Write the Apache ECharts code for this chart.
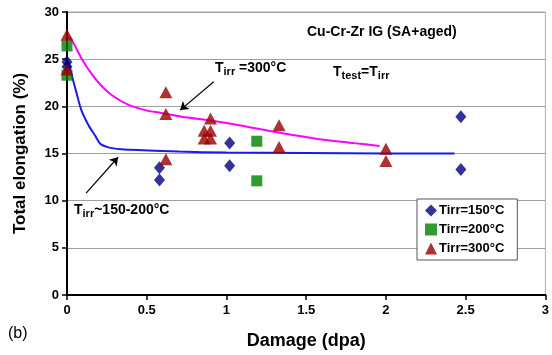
<!DOCTYPE html>
<html>
<head>
<meta charset="utf-8">
<script src="https://cdn.jsdelivr.net/npm/echarts@6/dist/echarts.min.js"></script>
<style>
  html, body { margin: 0; padding: 0; background: #fff; }
  #chart { width: 552px; height: 355px; }
</style>
</head>
<body>
<div id="chart"></div>
<script>
// Total elongation of Cu-Cr-Zr IG (SA+aged) versus irradiation damage
const xTicks = [0, 0.5, 1, 1.5, 2, 2.5, 3];
const yTicks = [0, 5, 10, 15, 20, 25, 30];

// Measured points [damage dpa, elongation %]
const tirr150 = [[0, 24.7], [0, 24.2], [0.58, 13.5], [0.58, 12.2], [1.02, 16.1], [1.02, 13.7], [2.47, 18.9], [2.47, 13.3]];
const tirr200 = [[0, 26.4], [0, 23.3], [1.19, 16.3], [1.19, 12.1]];
const tirr300 = [[0, 27.6], [0, 23.9], [0.62, 21.5], [0.62, 19.2], [0.62, 14.4],
                 [0.9, 18.7], [0.86, 17.4], [0.9, 17.4], [0.86, 16.6], [0.9, 16.6],
                 [1.33, 18.0], [1.33, 15.7], [2.0, 15.5], [2.0, 14.2]];

// Trend curves
const trend300 = [[0, 27.4], [0.03, 27.0], [0.09, 25.1], [0.16, 23.3], [0.22, 22.1], [0.28, 21.2],
                  [0.38, 20.2], [0.49, 19.6], [0.59, 19.3], [0.72, 18.9], [0.9, 18.5], [1.08, 18.0],
                  [1.3, 17.3], [1.55, 16.6], [1.8, 16.1], [1.96, 15.8]];
const trend150 = [[0, 24.8], [0.01, 24.6], [0.03, 23.3], [0.06, 21.4], [0.09, 19.6], [0.135, 18.0],
                  [0.18, 16.8], [0.21, 16.0], [0.26, 15.65], [0.34, 15.45], [0.4, 15.4],
                  [0.7, 15.2], [1.0, 15.1], [1.5, 15.05], [2.0, 15.0], [2.43, 15.0]];

const chart = echarts.init(document.getElementById('chart'));
const FONT = 'Liberation Sans, Arial, sans-serif';

const subRich = {
  b: { fontFamily: FONT, fontSize: 14, fontWeight: 'bold', color: '#000', lineHeight: 17 },
  s: { fontFamily: FONT, fontSize: 11, fontWeight: 'bold', color: '#000', lineHeight: 17, padding: [7, 0, 0, 0] }
};

chart.setOption({
  animation: false,
  backgroundColor: '#fff',
  grid: { left: 67, right: 3, top: 12, bottom: 60, show: true, borderColor: '#b0b0b0', borderWidth: 1 },
  xAxis: {
    type: 'value', min: 0, max: 3, interval: 0.5,
    name: 'Damage (dpa)', nameLocation: 'middle', nameGap: 37,
    nameTextStyle: { fontFamily: FONT, fontSize: 18, fontWeight: 'bold', color: '#000' },
    axisLine: { show: true, lineStyle: { color: '#000', width: 2 } },
    axisTick: { show: true, inside: false, length: 5, lineStyle: { color: '#000', width: 1.5 } },
    axisLabel: { fontFamily: FONT, fontSize: 13, fontWeight: 'bold', color: '#000', margin: 9,
                 formatter: v => String(v) },
    splitLine: { show: false }
  },
  yAxis: {
    type: 'value', min: 0, max: 30, interval: 5,
    name: 'Total elongation (%)', nameLocation: 'middle', nameGap: 38, nameRotate: 90,
    nameTextStyle: { fontFamily: FONT, fontSize: 17, fontWeight: 'bold', color: '#000' },
    axisLine: { show: true, lineStyle: { color: '#000', width: 2 } },
    axisTick: { show: true, inside: false, length: 5, lineStyle: { color: '#000', width: 1.5 } },
    axisLabel: { fontFamily: FONT, fontSize: 13, fontWeight: 'bold', color: '#000', margin: 8 },
    splitLine: { show: true, lineStyle: { color: '#a0a0a0', width: 1.2 } }
  },
  legend: {
    orient: 'vertical', left: 417, top: 199,
    padding: [5, 13, 5, 8], itemGap: 6,
    borderColor: '#555', borderWidth: 1, backgroundColor: '#fff',
    itemWidth: 12, itemHeight: 12,
    textStyle: { fontFamily: FONT, fontSize: 13, fontWeight: 'bold', color: '#000', padding: [0, 0, 0, -3] },
    data: ['Tirr=150°C', 'Tirr=200°C', 'Tirr=300°C']
  },
  series: [
    {
      name: 'trend300', type: 'line', data: trend300, smooth: 0.3, showSymbol: false,
      lineStyle: { color: '#ff00ff', width: 2 }, z: 2, silent: true
    },
    {
      name: 'trend150', type: 'line', data: trend150, smooth: 0.3, showSymbol: false,
      lineStyle: { color: '#1a1aee', width: 2 }, z: 2, silent: true,
      markLine: {
        silent: true, symbol: ['none', 'arrow'], symbolSize: 8,
        label: { show: false },
        lineStyle: { color: '#000', width: 1.2, type: 'solid' },
        data: [
          [{ coord: [0.92, 22.6] }, { coord: [0.71, 19.6] }],
          [{ coord: [0.12, 10.8] }, { coord: [0.32, 14.6] }]
        ]
      }
    },
    {
      name: 'Tirr=150°C', type: 'scatter', data: tirr150, symbol: 'diamond', symbolSize: [11, 13],
      itemStyle: { color: '#000080' }, z: 5
    },
    {
      name: 'Tirr=200°C', type: 'scatter', data: tirr200, symbol: 'rect', symbolSize: 11,
      itemStyle: { color: '#008000' }, z: 4
    },
    {
      name: 'Tirr=300°C', type: 'scatter', data: tirr300, symbol: 'triangle', symbolSize: [13, 12],
      itemStyle: { color: '#990000' }, z: 6
    }
  ],
  graphic: [
    { type: 'text', left: 307, top: 25,
      style: { text: 'Cu-Cr-Zr IG (SA+aged)', fontFamily: FONT, fontSize: 14, fontWeight: 'bold', fill: '#000' } },
    { type: 'text', left: 215, top: 59,
      style: { text: '{b|T}{s|irr}{b| =300°C}', rich: subRich } },
    { type: 'text', left: 333, top: 63,
      style: { text: '{b|T}{s|test}{b|=T}{s|irr}', rich: subRich } },
    { type: 'text', left: 74, top: 201,
      style: { text: '{b|T}{s|irr}{b|~150-200°C}', rich: subRich } },
    { type: 'text', left: 8, top: 326,
      style: { text: '(b)', fontFamily: FONT, fontSize: 16, fill: '#000' } }
  ]
});
</script>
</body>
</html>
